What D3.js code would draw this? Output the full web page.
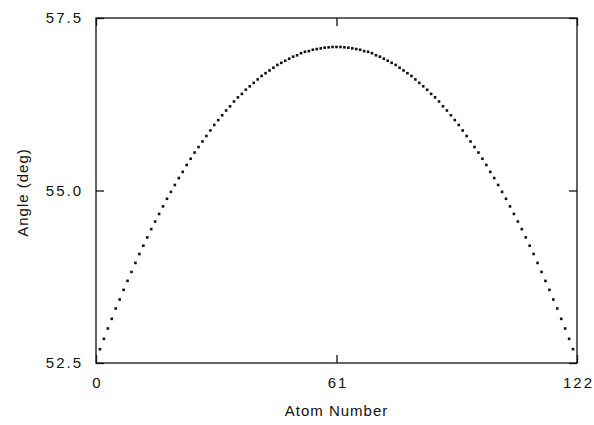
<!DOCTYPE html>
<meta charset="UTF-8">
<style>
    body { margin: 0; background: #fff; }
    .frame { fill: none; stroke: #111; stroke-width: 1.3px; }
    .axis path { display: none; }
    .axis line { stroke: #111; stroke-width: 1.3px; }
    .axis text, .title {
        font-family: "Liberation Sans", Arial, sans-serif;
        fill: #111;
    }
    .axis text { font-size: 15px; letter-spacing: 2px; }
    .title { font-size: 15px; letter-spacing: 1px; }
</style>
<body>
<script src="https://d3js.org/d3.v7.min.js"></script>
<script>

// angle of each atom, atoms 1..121
var angleLeft = [
  52.70, 52.85, 53.00, 53.14, 53.29, 53.42, 53.56, 53.69, 53.82, 53.95,
  54.08, 54.20, 54.32, 54.44, 54.55, 54.66, 54.77, 54.88, 54.98, 55.08,
  55.18, 55.27, 55.37, 55.46, 55.55, 55.63, 55.71, 55.79, 55.87, 55.95,
  56.02, 56.09, 56.16, 56.22, 56.29, 56.35, 56.40, 56.46, 56.51, 56.56,
  56.61, 56.66, 56.70, 56.74, 56.78, 56.82, 56.85, 56.88, 56.91, 56.94,
  56.96, 56.99, 57.01, 57.02, 57.04, 57.05, 57.06, 57.07, 57.075, 57.08
];
var anglePeak = [57.08];
var angleRight = [
  57.08, 57.075, 57.07, 57.06, 57.05, 57.04, 57.02, 57.01, 56.99, 56.96,
  56.94, 56.91, 56.88, 56.85, 56.82, 56.78, 56.74, 56.70, 56.66, 56.61,
  56.56, 56.51, 56.46, 56.40, 56.35, 56.29, 56.22, 56.16, 56.09, 56.02,
  55.95, 55.87, 55.79, 55.71, 55.63, 55.55, 55.46, 55.37, 55.27, 55.18,
  55.08, 54.98, 54.88, 54.77, 54.66, 54.55, 54.44, 54.32, 54.20, 54.08,
  53.95, 53.82, 53.69, 53.56, 53.42, 53.29, 53.14, 53.00, 52.85, 52.70
];

var xTicks = [0, 61, 122];
var yTicks = [52.5, 55.0, 57.5];
var xTitle = "Atom Number";
var yTitle = "Angle (deg)";

var angles = angleLeft.concat(anglePeak, angleRight);
var points = angles.map(function(v, i) { return {atom: i + 1, angle: v}; });

var width = 594, height = 425;
var plot = {left: 96, right: 577, top: 18, bottom: 363};

var svg = d3.select("body").append("svg")
    .attr("width", width)
    .attr("height", height);

var x = d3.scaleLinear().domain([0, 122]).range([plot.left, plot.right]);
var y = d3.scaleLinear().domain([52.5, 57.5]).range([plot.bottom, plot.top]);

// frame
svg.append("rect")
    .attr("class", "frame")
    .attr("x", plot.left)
    .attr("y", plot.top)
    .attr("width", plot.right - plot.left)
    .attr("height", plot.bottom - plot.top);

// bottom axis with labels
svg.append("g")
    .attr("class", "axis")
    .attr("transform", "translate(0," + plot.bottom + ")")
    .call(d3.axisBottom(x).tickValues(xTicks).tickSizeInner(-8).tickSizeOuter(0)
        .tickPadding(14).tickFormat(d3.format("d")))
    .selectAll("text").attr("dx", "1px");

// top ticks only
svg.append("g")
    .attr("class", "axis")
    .attr("transform", "translate(0," + plot.top + ")")
    .call(d3.axisTop(x).tickValues(xTicks).tickSizeInner(-8).tickSizeOuter(0).tickFormat(""));

// left axis with labels
svg.append("g")
    .attr("class", "axis")
    .attr("transform", "translate(" + plot.left + ",0)")
    .call(d3.axisLeft(y).tickValues(yTicks).tickSizeInner(-8).tickSizeOuter(0)
        .tickPadding(13).tickFormat(d3.format(".1f")));

// right ticks only
svg.append("g")
    .attr("class", "axis")
    .attr("transform", "translate(" + plot.right + ",0)")
    .call(d3.axisRight(y).tickValues(yTicks).tickSizeInner(-8).tickSizeOuter(0).tickFormat(""));

// dots
svg.append("g")
  .selectAll("rect.dot")
    .data(points)
  .enter().append("rect")
    .attr("class", "dot")
    .attr("x", function(d) { return x(d.atom) - 1.3; })
    .attr("y", function(d) { return y(d.angle) - 1.3; })
    .attr("width", 2.6)
    .attr("height", 2.6)
    .style("fill", "#111");

// axis titles
svg.append("text")
    .attr("class", "title")
    .attr("x", (plot.left + plot.right) / 2)
    .attr("y", 416)
    .attr("text-anchor", "middle")
    .text(xTitle);

svg.append("text")
    .attr("class", "title")
    .attr("transform", "translate(28," + ((plot.top + plot.bottom) / 2 + 2) + ") rotate(-90)")
    .attr("text-anchor", "middle")
    .text(yTitle);

</script>
</body>
